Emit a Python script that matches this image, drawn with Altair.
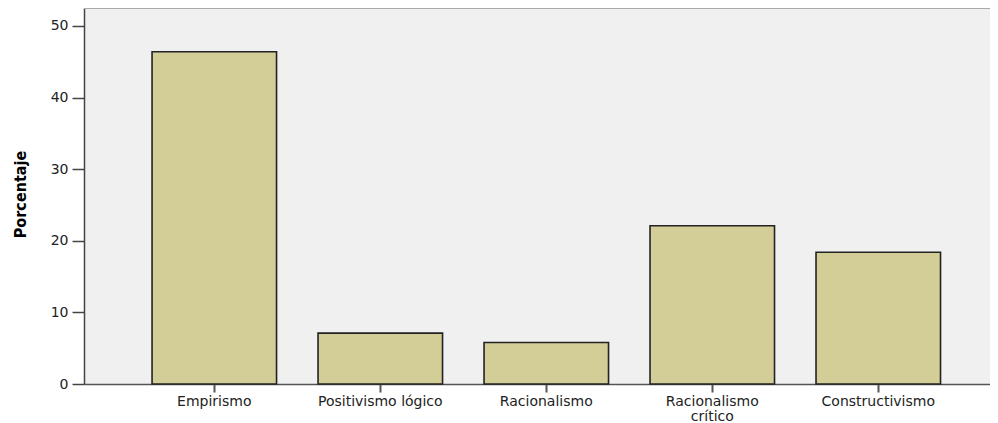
import altair as alt
import pandas as pd

categories = ["Empirismo", "Positivismo lógico", "Racionalismo", "Racionalismo crítico", "Constructivismo"]
values = [46.4, 7.1, 5.8, 22.1, 18.4]
y_ticks = [0, 10, 20, 30, 40, 50]

df = pd.DataFrame({"cat": categories, "pct": values})

base = alt.Chart(df)

bars = base.mark_bar(fill="#d3ce97", stroke="#222222", strokeWidth=1.6).encode(
    x=alt.X(
        "cat:N",
        sort=categories,
        scale=alt.Scale(paddingInner=0.25, paddingOuter=0.354, align=0.579),
        axis=alt.Axis(
            title=None,
            labelAngle=0,
            labelFont="DejaVu Sans",
            labelFontSize=14,
            labelColor="#222222",
            labelPadding=2,
            labelLineHeight=15,
            labelExpr="datum.label == 'Racionalismo crítico' ? split(datum.label, ' ') : datum.label",
            tickSize=8,
            tickWidth=2,
            tickColor="#555555",
            domainColor="#555555",
            domainWidth=1.5,
            grid=False,
        ),
    ),
    y=alt.Y(
        "pct:Q",
        scale=alt.Scale(domain=[0, 52.5], nice=False),
        axis=alt.Axis(
            title="Porcentaje",
            values=y_ticks,
            labelFont="DejaVu Sans",
            labelFontSize=14,
            labelColor="#222222",
            labelPadding=4,
            tickSize=12,
            tickWidth=1.5,
            tickColor="#444444",
            domainColor="#444444",
            domainWidth=1.5,
            grid=False,
            titleFont="DejaVu Sans Condensed",
            titleFontWeight="bold",
            titleFontSize=16,
            titleColor="#000000",
            titleAngle=270,
            titleAlign="center",
            titleBaseline="middle",
            titleX=-64,
            titleY=186,
        ),
    ),
)

top_rule = base.mark_rule(color="#aaaaaa", strokeWidth=1.5).encode(
    x=alt.value(0), x2=alt.value(906), y=alt.value(0)
)

chart = (
    alt.layer(bars, top_rule)
    .properties(
        width=906,
        height=376,
        autosize=alt.AutoSizeParams(type="none"),
        padding={"left": 76, "top": 0, "right": 0, "bottom": 39},
        background="#ffffff",
    )
    .configure_view(fill="#f0f0f0", stroke="transparent")
)

chart.save("out.html", embed_options={"renderer": "svg", "actions": False})
